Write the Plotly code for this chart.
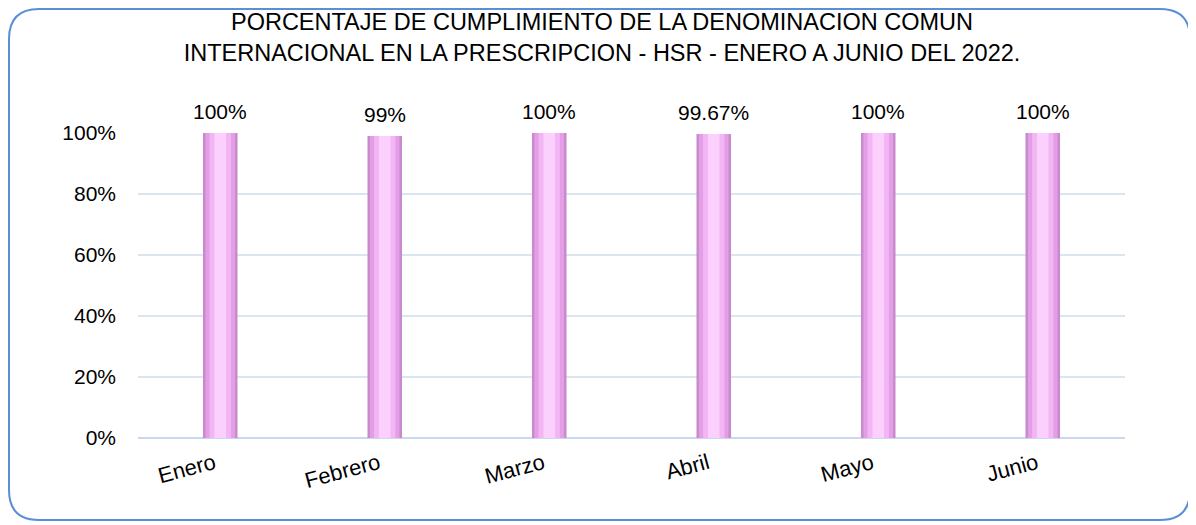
import plotly.graph_objects as go

# ==================== DATOS ====================
meses = ["Enero", "Febrero", "Marzo", "Abril", "Mayo", "Junio"]
cumplimiento = [1.00, 0.99, 1.00, 0.9967, 1.00, 1.00]
etiquetas = ["100%", "99%", "100%", "99.67%", "100%", "100%"]

titulo = ("PORCENTAJE DE CUMPLIMIENTO DE LA DENOMINACION COMUN<br>"
          "INTERNACIONAL EN LA PRESCRIPCION - HSR - ENERO A JUNIO DEL 2022.")

# ==================== LAYOUT ====================
# la página añade 8px de margen al body, se descuentan aquí
W, H = 1188, 517
ML, MR, MT, MB = 130, 71, 125, 87
PW, PH = W - ML - MR, H - MT - MB


def px(x):
    return (x - ML) / PW


def py(y):
    return (H - MB - y) / PH


fig = go.Figure()

# capas para simular el cilindro (de borde oscuro a centro claro)
capas = [(0.21, "#c78bcd"), (0.18, "#e39ee6"), (0.13, "#f2b6f4"), (0.07, "#fcd0fd")]
for ancho, color in capas:
    fig.add_trace(go.Bar(
        x=meses, y=cumplimiento, width=ancho,
        marker=dict(color=color, line=dict(width=0)),
        hoverinfo="skip", showlegend=False,
    ))

# etiquetas de datos
for mes, val, txt in zip(meses, cumplimiento, etiquetas):
    fig.add_annotation(x=mes, y=val, text=txt, showarrow=False,
                       yanchor="bottom", yshift=8,
                       font=dict(size=21, color="#000000"))

# borde redondeado del gráfico
r = 30
x0, x1, y0, y1 = 1, 1182, 1, 512
borde = (f"M {px(x0 + r)},{py(y0)} L {px(x1 - r)},{py(y0)} "
         f"Q {px(x1)},{py(y0)} {px(x1)},{py(y0 + r)} "
         f"L {px(x1)},{py(y1 - r)} Q {px(x1)},{py(y1)} {px(x1 - r)},{py(y1)} "
         f"L {px(x0 + r)},{py(y1)} Q {px(x0)},{py(y1)} {px(x0)},{py(y1 - r)} "
         f"L {px(x0)},{py(y0 + r)} Q {px(x0)},{py(y0)} {px(x0 + r)},{py(y0)} Z")
fig.add_shape(type="path", path=borde, xref="paper", yref="paper",
              line=dict(color="#5b8ed8", width=2), layer="above")

fig.update_layout(
    width=W, height=H,
    margin=dict(l=ML, r=MR, t=MT, b=MB),
    barmode="overlay",
    paper_bgcolor="white", plot_bgcolor="white",
    font=dict(family="Liberation Sans, Arial", size=21, color="#000000"),
    title=dict(text=titulo, x=0.5, xanchor="center", y=0.957, yanchor="middle",
               font=dict(size=23.5, color="#000000")),
)
fig.update_yaxes(range=[0, 1], dtick=0.2, tickformat=".0%", automargin=False,
                 showgrid=True, gridcolor="#dbe5f0", gridwidth=2,
                 zeroline=True, zerolinecolor="#c9d8ea", zerolinewidth=2,
                 ticks="", ticklabelstandoff=21, showline=False)
fig.update_xaxes(tickangle=-15, showgrid=False, ticks="", showline=False,
                 automargin=False, ticklabelstandoff=6,
                 tickvals=meses, ticktext=[m + "\u00a0" for m in meses],
                 tickfont=dict(size=22))

fig.write_html("out.html")
